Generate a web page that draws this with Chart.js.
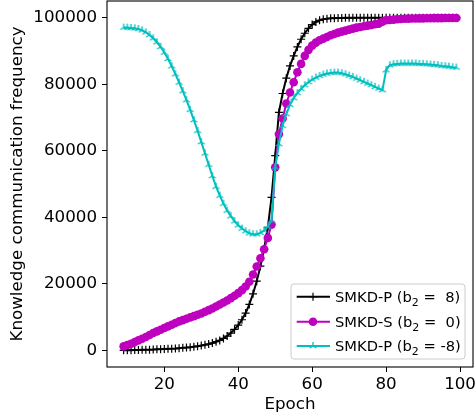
<!DOCTYPE html>
<html><head><meta charset="utf-8">
<script src="https://cdn.jsdelivr.net/npm/chart.js@4/dist/chart.umd.min.js"></script>
<style>html,body{margin:0;padding:0;background:#fff}canvas{display:block}</style>
</head><body>
<canvas id="c" width="475" height="419"></canvas>
<script>
const epochs = [9,10,11,12,13,14,15,16,17,18,19,20,21,22,23,24,25,26,27,28,29,30,31,32,33,34,35,36,37,38,39,40,41,42,43,44,45,46,47,48,49,50,51,52,53,54,55,56,57,58,59,60,61,62,63,64,65,66,67,68,69,70,71,72,73,74,75,76,77,78,79,80,81,82,83,84,85,86,87,88,89,90,91,92,93,94,95,96,97,98,99];

const smkdP8 = [0,0,50,100,100,150,200,200,250,300,350,400,450,500,550,650,750,850,950,1100,1250,1450,1650,1900,2200,2600,3000,3600,4300,5200,6300,7600,9200,11200,13800,17000,20800,25300,30500,37000,46000,58500,71500,77200,81800,85500,88500,91200,93500,95300,96800,97900,98700,99200,99500,99700,99800,99850,99900,99900,99950,99950,99950,100000,100000,100000,100000,100000,100000,100000,100000,100000,100000,100000,100000,100000,100000,100000,100000,100000,100000,100000,100000,100000,100000,100000,100000,100000,100000,100000,100000];

const smkdS0 = [1200,1600,2000,2500,3000,3500,4000,4600,5200,5700,6200,6700,7200,7700,8200,8700,9100,9500,9900,10300,10700,11100,11600,12100,12600,13200,13800,14400,15000,15700,16400,17200,18100,19200,20600,22800,25200,27700,30400,33800,37800,55000,65000,69700,74200,77500,80600,83600,86100,88500,90300,91600,92500,93200,93700,94200,94700,95100,95500,95800,96100,96400,96700,97000,97200,97400,97600,97800,98000,98200,98800,99200,99300,99400,99500,99600,99650,99700,99720,99750,99770,99790,99800,99820,99840,99850,99860,99870,99880,99890,99900];

const smkdPm8 = [97000,97000,96900,96800,96600,96200,95600,94800,93800,92600,91200,89500,87600,85400,83000,80500,77900,75200,72300,69200,66000,62600,59200,55800,52400,49200,46500,44100,42000,40300,38800,37600,36600,35800,35200,34900,34900,35300,36000,37200,39000,55000,62000,67500,71000,73800,75800,77300,78600,79700,80600,81400,82000,82500,82900,83200,83400,83500,83500,83300,83000,82600,82200,81700,81200,80700,80200,79700,79200,78700,78200,84200,85700,86000,86100,86200,86200,86200,86200,86200,86100,86100,86000,85900,85800,85700,85500,85400,85300,85100,85000];

const xTicks = [20,40,60,80,100];
const yTicks = [0,20000,40000,60000,80000,100000];
const seriesNames = ['SMKD-P', 'SMKD-S', 'SMKD-P'];
const b2Values = [' 8', ' 0', '-8'];
const colors = ['#000000', '#bf00bf', '#00bfbf'];

function triCanvas(color, r) {
  const c = document.createElement('canvas');
  const s = Math.ceil(r * 2 + 4); c.width = s; c.height = s;
  const g = c.getContext('2d'); const cx = s / 2, cy = s / 2;
  g.strokeStyle = color; g.lineWidth = 1.3;
  g.beginPath();
  g.moveTo(cx, cy); g.lineTo(cx, cy - r);
  g.moveTo(cx, cy); g.lineTo(cx - r * 0.866, cy + r * 0.5);
  g.moveTo(cx, cy); g.lineTo(cx + r * 0.866, cy + r * 0.5);
  g.stroke();
  return c;
}
const tri = triCanvas(colors[2], 4);

const toPts = arr => epochs.map((e, i) => ({x: e, y: arr[i]}));
const FONT = '"DejaVu Sans", sans-serif';

const framePlugin = {
  id: 'frame',
  afterDraw(chart) {
    const {ctx, chartArea: a} = chart;
    ctx.save();
    ctx.strokeStyle = '#000'; ctx.lineWidth = 1.1;
    ctx.strokeRect(a.left, a.top, a.right - a.left, a.bottom - a.top);
    const w = 174, h = 75;
    const x1 = a.right - 8 - w, y1 = a.bottom - 8 - h;
    ctx.beginPath();
    if (ctx.roundRect) ctx.roundRect(x1, y1, w, h, 3); else ctx.rect(x1, y1, w, h);
    ctx.fillStyle = 'rgba(255,255,255,0.8)'; ctx.fill();
    ctx.strokeStyle = '#cccccc'; ctx.lineWidth = 1; ctx.stroke();
    const rows = [12.7, 37.7, 62];
    for (let i = 0; i < 3; i++) {
      const cy = y1 + rows[i];
      const lx0 = x1 + 5.7, lx1 = x1 + 39, mx = x1 + 22;
      ctx.strokeStyle = colors[i]; ctx.lineWidth = 2;
      ctx.beginPath(); ctx.moveTo(lx0, cy); ctx.lineTo(lx1, cy); ctx.stroke();
      if (i === 0) {
        ctx.lineWidth = 1.2; ctx.beginPath();
        ctx.moveTo(mx - 4, cy); ctx.lineTo(mx + 4, cy);
        ctx.moveTo(mx, cy - 4); ctx.lineTo(mx, cy + 4); ctx.stroke();
      } else if (i === 1) {
        ctx.fillStyle = colors[1]; ctx.beginPath(); ctx.arc(mx, cy, 4.3, 0, Math.PI * 2); ctx.fill();
      } else {
        ctx.drawImage(tri, mx - tri.width / 2, cy - tri.height / 2);
      }
      ctx.fillStyle = '#000'; ctx.textBaseline = 'alphabetic'; ctx.textAlign = 'left';
      let tx = x1 + 44; const base = cy + 5;
      ctx.font = '14.7px ' + FONT;
      const p1 = seriesNames[i] + ' (b';
      ctx.fillText(p1, tx, base); tx += ctx.measureText(p1).width;
      ctx.font = '11px ' + FONT;
      ctx.fillText('2', tx, base + 4); tx += ctx.measureText('2').width;
      ctx.font = '14.7px ' + FONT;
      ctx.fillText(' = ' + (b2Values[i].startsWith(' ') ? ' ' : '') + b2Values[i].trim() + ')', tx, base);
    }
    ctx.restore();
  }
};

new Chart(document.getElementById('c'), {
  type: 'line',
  data: {
    datasets: [
      {label: 'SMKD-P (b2 = 8)', data: toPts(smkdP8), borderColor: colors[0], backgroundColor: colors[0],
       borderWidth: 2, pointStyle: 'cross', pointRadius: 4, pointBorderWidth: 1.2, pointBorderColor: colors[0], order: 2},
      {label: 'SMKD-S (b2 = 0)', data: toPts(smkdS0), borderColor: colors[1], backgroundColor: colors[1],
       borderWidth: 2, pointStyle: 'circle', pointRadius: 4.3, pointBorderWidth: 0, pointBackgroundColor: colors[1], order: 1},
      {label: 'SMKD-P (b2 = -8)', data: toPts(smkdPm8), borderColor: colors[2], backgroundColor: colors[2],
       borderWidth: 2, pointStyle: tri, pointRadius: 4, order: 0}
    ]
  },
  options: {
    responsive: false, animation: false, devicePixelRatio: 1,
    layout: {autoPadding: false, padding: {top: 1, right: 2, left: 0, bottom: 0}},
    elements: {line: {tension: 0}},
    plugins: {legend: {display: false}, tooltip: {enabled: false}},
    scales: {
      x: {
        type: 'linear', min: 4.5, max: 103.5,
        afterBuildTicks: s => { s.ticks = xTicks.map(v => ({value: v})); },
        afterFit: s => { s.height = 52; s.paddingLeft = 0; s.paddingRight = 0; s.paddingTop = 0; s.paddingBottom = 0; },
        grid: {display: true, drawOnChartArea: false, drawTicks: true, tickLength: 5, color: '#000', lineWidth: 1},
        border: {display: false},
        ticks: {color: '#000', font: {family: FONT, size: 16.7}, padding: 3, maxRotation: 0, callback: v => String(v)},
        title: {display: true, text: 'Epoch', color: '#000', font: {family: FONT, size: 16.7}, padding: {top: 0, bottom: 4}}
      },
      y: {
        type: 'linear', min: -5000, max: 105000,
        afterBuildTicks: s => { s.ticks = yTicks.map(v => ({value: v})); },
        afterFit: s => { s.width = 107; s.paddingTop = 0; s.paddingBottom = 0; s.paddingLeft = 0; s.paddingRight = 0; },
        grid: {display: true, drawOnChartArea: false, drawTicks: true, tickLength: 5, color: '#000', lineWidth: 1},
        border: {display: false},
        ticks: {color: '#000', font: {family: FONT, size: 16.7}, padding: 5, callback: v => String(v)},
        title: {display: true, text: 'Knowledge communication frequency', color: '#000', font: {family: FONT, size: 16.7}, padding: {top: 8, bottom: 0}}
      }
    }
  },
  plugins: [framePlugin]
});
</script>
</body></html>
